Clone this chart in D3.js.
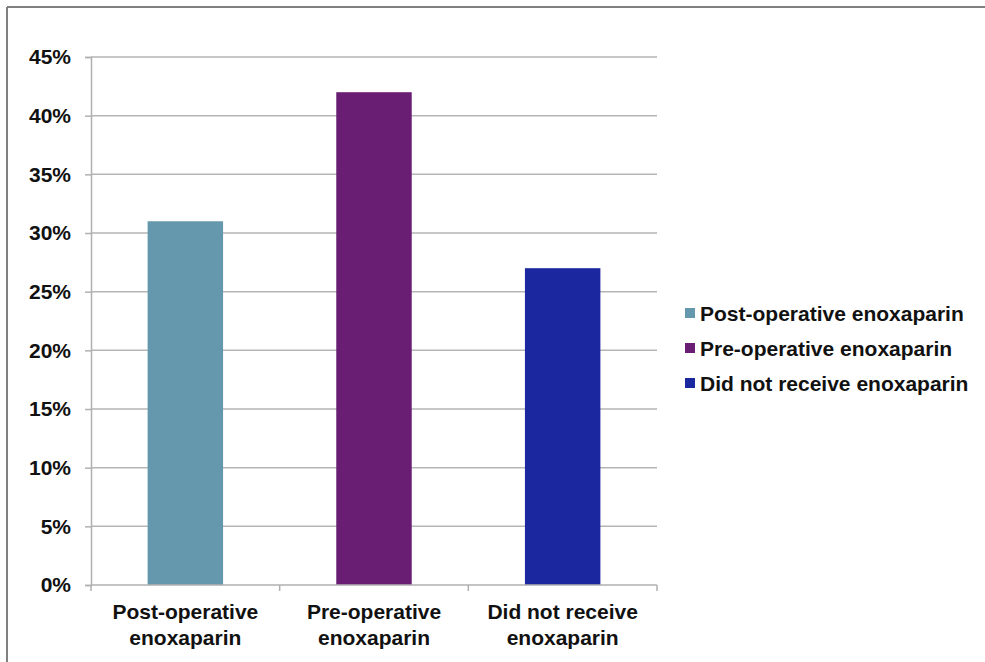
<!DOCTYPE html>
<html>
<head>
<meta charset="utf-8">
<script src="https://cdn.jsdelivr.net/npm/d3@7"></script>
<style>
  html, body { margin: 0; padding: 0; background: #fff; }
  svg { display: block; }
  text { font-family: "Liberation Sans", Arial, Helvetica, sans-serif; font-weight: bold; fill: #111; }
</style>
</head>
<body>
<svg id="chart" width="985" height="662"></svg>
<script>
// ---- data ----
const categories = ["Post-operative enoxaparin", "Pre-operative enoxaparin", "Did not receive enoxaparin"];
const categoryLines = [["Post-operative", "enoxaparin"], ["Pre-operative", "enoxaparin"], ["Did not receive", "enoxaparin"]];
const values = [0.31, 0.42, 0.27];
const colors = ["#6598ac", "#6a1e73", "#1a279e"];
const yTicks = [0, 0.05, 0.10, 0.15, 0.20, 0.25, 0.30, 0.35, 0.40, 0.45];

// ---- layout ----
const svg = d3.select("#chart");
const W = 985, H = 662;
const plot = { left: 91, right: 657, top: 57, bottom: 585 };

// frame (top & left borders visible)
svg.append("line").attr("x1", 7).attr("x2", W).attr("y1", 7).attr("y2", 7)
  .attr("stroke", "#808080").attr("stroke-width", 2);
svg.append("line").attr("x1", 7).attr("x2", 7).attr("y1", 7).attr("y2", H)
  .attr("stroke", "#808080").attr("stroke-width", 2);

const y = d3.scaleLinear().domain([0, 0.45]).range([plot.bottom, plot.top]);
const x = d3.scaleBand().domain(categories).range([plot.left, plot.right])
  .paddingInner(0.6).paddingOuter(0.3);

// gridlines
svg.append("g").selectAll("line").data(yTicks.filter(d => d > 0)).join("line")
  .attr("x1", plot.left).attr("x2", plot.right)
  .attr("y1", d => y(d)).attr("y2", d => y(d))
  .attr("stroke", "#b5b5b5").attr("stroke-width", 1.5);

// y axis
const yAxis = d3.axisLeft(y).tickValues(yTicks).tickFormat(d3.format(".0%")).tickSize(6).tickPadding(14);
const gy = svg.append("g").attr("transform", `translate(${plot.left},0)`).call(yAxis);
gy.select(".domain").attr("stroke", "#b0b0b0").attr("stroke-width", 1.5);
gy.selectAll(".tick line").attr("stroke", "#b0b0b0").attr("stroke-width", 1.5);
gy.selectAll(".tick text").attr("font-size", 21).attr("font-family", "Liberation Sans, Arial, sans-serif")
  .attr("font-weight", "bold").attr("fill", "#111");

// bars
svg.append("g").selectAll("rect").data(values).join("rect")
  .attr("x", (d, i) => x(categories[i]))
  .attr("width", x.bandwidth())
  .attr("y", d => y(d))
  .attr("height", d => y(0) - y(d))
  .attr("fill", (d, i) => colors[i]);

// x axis baseline & boundary ticks
svg.append("line").attr("x1", plot.left).attr("x2", plot.right)
  .attr("y1", y(0)).attr("y2", y(0)).attr("stroke", "#b0b0b0").attr("stroke-width", 1.5);
const boundaries = d3.range(categories.length + 1).map(i => plot.left + i * (plot.right - plot.left) / categories.length);
svg.append("g").selectAll("line").data(boundaries).join("line")
  .attr("x1", d => d).attr("x2", d => d)
  .attr("y1", y(0)).attr("y2", y(0) + 6)
  .attr("stroke", "#b0b0b0").attr("stroke-width", 1.5);

// x labels
const xl = svg.append("g").selectAll("text").data(categories).join("text")
  .attr("text-anchor", "middle")
  .attr("font-size", 21)
  .attr("x", d => x(d) + x.bandwidth() / 2)
  .attr("y", 619);
xl.each(function(d, i) {
  const t = d3.select(this);
  categoryLines[i].forEach((ln, j) => {
    t.append("tspan").attr("x", x(d) + x.bandwidth() / 2).attr("dy", j === 0 ? 0 : 26).text(ln);
  });
});

// legend
const lg = svg.append("g").attr("transform", "translate(685,308)");
categories.forEach((c, i) => {
  const row = lg.append("g").attr("transform", `translate(0,${i * 35})`);
  row.append("rect").attr("width", 10).attr("height", 10).attr("fill", colors[i]);
  row.append("text").attr("x", 15).attr("y", 12.5).attr("font-size", 21).text(c);
});
</script>
</body>
</html>
